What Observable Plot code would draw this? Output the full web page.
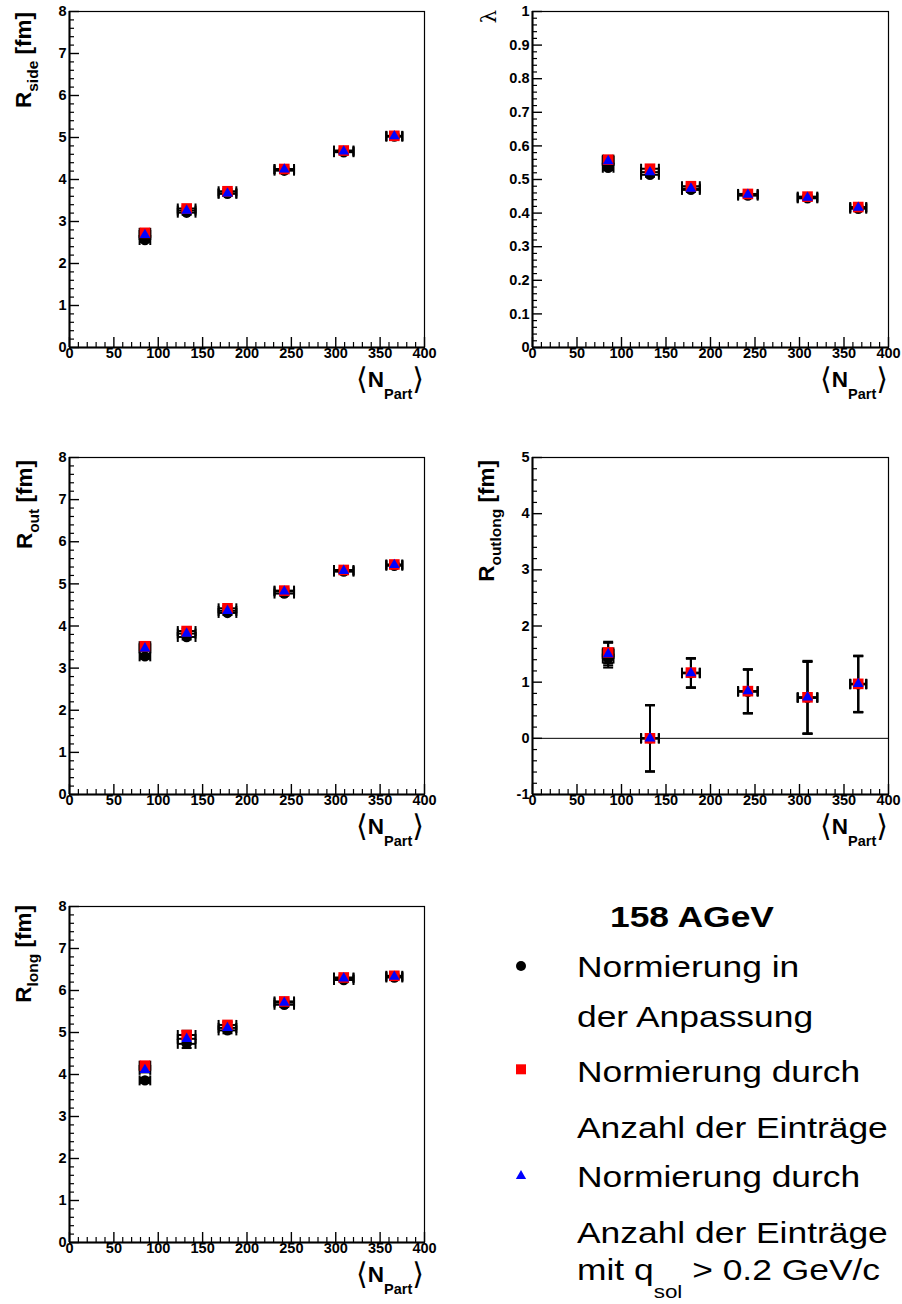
<!DOCTYPE html>
<html><head><meta charset="utf-8">
<script src="https://cdn.jsdelivr.net/npm/d3@7"></script>
<script src="https://cdn.jsdelivr.net/npm/@observablehq/plot@0.6"></script>
<style>
body{margin:0;background:#fff;}
#root{position:relative;width:902px;height:1304px;overflow:hidden;font-family:"Liberation Sans",Arial,Helvetica,sans-serif;}
#root > svg{position:absolute;}
</style></head><body><div id="root"></div>
<script>
// ---- data ----
const nPart = [85, 132, 178, 242, 309, 366];
const nPartErr = [6, 10, 10, 11, 11, 9];
const xTicks = [0, 50, 100, 150, 200, 250, 300, 350, 400];

const rTicks = [0, 1, 2, 3, 4, 5, 6, 7, 8];
const lambdaTicks = [0, 0.1, 0.2, 0.3, 0.4, 0.5, 0.6, 0.7, 0.8, 0.9, 1];
const outlongTicks = [-1, 0, 1, 2, 3, 4, 5];

const rsideFit  = [2.56, 3.21, 3.66, 4.21, 4.65, 5.02];
const rsideNorm = [2.73, 3.31, 3.72, 4.25, 4.69, 5.04];
const rsideCut  = [2.68, 3.26, 3.67, 4.24, 4.67, 5.03];
const rsideErr  = [0.05, 0.05, 0.05, 0.04, 0.04, 0.04];

const lambdaFit  = [0.535, 0.514, 0.469, 0.452, 0.444, 0.413];
const lambdaNorm = [0.559, 0.532, 0.480, 0.457, 0.449, 0.418];
const lambdaCut  = [0.555, 0.522, 0.473, 0.455, 0.446, 0.416];
const lambdaErr  = [0.007, 0.006, 0.006, 0.005, 0.005, 0.005];

const routFit  = [3.28, 3.74, 4.31, 4.77, 5.29, 5.43];
const routNorm = [3.52, 3.88, 4.42, 4.84, 5.33, 5.46];
const routCut  = [3.47, 3.82, 4.36, 4.82, 5.31, 5.45];
const routErr  = [0.06, 0.06, 0.05, 0.05, 0.04, 0.04];

const routlongFit  = [1.42, 0.00, 1.16, 0.83, 0.72, 0.96];
const routlongNorm = [1.53, 0.00, 1.17, 0.84, 0.73, 0.97];
const routlongCut  = [1.50, 0.00, 1.16, 0.84, 0.73, 0.97];
const routlongErrFit  = [0.16, 0.59, 0.26, 0.39, 0.64, 0.50];
const routlongErrNorm = [0.19, 0.59, 0.26, 0.39, 0.65, 0.50];
const routlongErrCut  = [0.20, 0.59, 0.26, 0.39, 0.64, 0.50];

const rlongFit  = [3.86, 4.73, 5.05, 5.66, 6.25, 6.31];
const rlongNorm = [4.21, 4.94, 5.18, 5.74, 6.31, 6.35];
const rlongCut  = [4.11, 4.85, 5.11, 5.71, 6.29, 6.33];
const rlongErr  = [0.06, 0.10, 0.07, 0.05, 0.05, 0.04];

const legendTitle = "158 AGeV";
const legendLines = ["Normierung in", "der Anpassung", "Normierung durch", "Anzahl der Einträge", "Normierung durch", "Anzahl der Einträge"];

// ---- helpers ----
const FONT = "'Liberation Sans', Arial, Helvetica, sans-serif";
const root = document.getElementById("root");

const vCap = {draw(ctx, size) { const r = Math.sqrt(size / Math.PI); ctx.moveTo(0, -r); ctx.lineTo(0, r); }};
const hCap = {draw(ctx, size) { const r = Math.sqrt(size / Math.PI); ctx.moveTo(-r, 0); ctx.lineTo(r, 0); }};

function rowsOf(vals, errs) {
  return nPart.map((x, i) => ({x, y: vals[i], xe: nPartErr[i], ye: errs[i]}));
}

function panel(o) {
  const {left, top, width, height, mL, mT, mR, mB, yDomain, yTicks, yMinorStep, yFmt, series, zero, yTitle} = o;
  const fw = width - mL - mR, fh = height - mT - mB;
  const xMinor = d3.range(0, 401, 10).filter(v => v % 50 !== 0);
  const nMinor = Math.round((yDomain[1] - yDomain[0]) / yMinorStep);
  const yMinor = d3.range(0, nMinor + 1).map(i => yDomain[0] + i * yMinorStep).filter(v => !yTicks.some(t => Math.abs(t - v) < 1e-9));
  const all = series.flatMap(s => s.rows);
  const errStyle = {stroke: "black", strokeWidth: 2};
  const marks = [
    Plot.frame({stroke: "black", strokeWidth: 1.2}),
    zero ? Plot.ruleY([0], {stroke: "black", strokeWidth: 1}) : null,
    Plot.tickX(xMinor, {x: d => d, insetTop: fh - 5, stroke: "black", strokeWidth: 1.2}),
    Plot.tickX(xTicks, {x: d => d, insetTop: fh - 10, stroke: "black", strokeWidth: 1.4}),
    Plot.tickY(yMinor, {y: d => d, insetRight: fw - 5, stroke: "black", strokeWidth: 1.2}),
    Plot.tickY(yTicks, {y: d => d, insetRight: fw - 10, stroke: "black", strokeWidth: 1.4}),
    Plot.ruleY([yDomain[0]], {stroke: "black", strokeWidth: 2}),
    Plot.ruleX([0], {stroke: "black", strokeWidth: 2}),
    Plot.text(xTicks, {x: d => d, text: d => String(d), frameAnchor: "bottom", dy: 10, fontWeight: "bold", fontSize: 14.5, fill: "black"}),
    Plot.text(yTicks, {y: d => d, text: yFmt, frameAnchor: "left", dx: -3, textAnchor: "end", fontWeight: "bold", fontSize: 14.5, fill: "black"}),
    Plot.link(all, {x1: d => d.x - d.xe, x2: d => d.x + d.xe, y1: "y", y2: "y", ...errStyle}),
    Plot.link(all, {x1: "x", x2: "x", y1: d => d.y - d.ye, y2: d => d.y + d.ye, ...errStyle}),
    Plot.dot(all, {x: d => d.x - d.xe, y: "y", symbol: vCap, r: 5, fill: "none", ...errStyle}),
    Plot.dot(all, {x: d => d.x + d.xe, y: "y", symbol: vCap, r: 5, fill: "none", ...errStyle}),
    Plot.dot(all, {x: "x", y: d => d.y - d.ye, symbol: hCap, r: 5, fill: "none", ...errStyle}),
    Plot.dot(all, {x: "x", y: d => d.y + d.ye, symbol: hCap, r: 5, fill: "none", ...errStyle}),
    ...series.map(s => Plot.dot(s.rows, {x: "x", y: "y", symbol: s.symbol, r: s.r, fill: s.color, stroke: "none"}))
  ];
  const chart = Plot.plot({
    width, height, marginLeft: mL, marginTop: mT, marginRight: mR, marginBottom: mB,
    x: {domain: [0, 400], axis: null},
    y: {domain: yDomain, axis: null},
    style: {fontFamily: FONT, color: "black", background: "transparent", overflow: "visible"},
    marks
  });
  chart.style.left = left + "px";
  chart.style.top = top + "px";
  root.appendChild(chart);
  const svg = d3.select(chart);
  // y title
  const yt = svg.append("text")
    .attr("transform", `translate(${yTitle.x},${yTitle.y}) rotate(-90)`)
    .attr("text-anchor", "end").attr("font-family", FONT).attr("fill", "black");
  if (yTitle.lambda) {
    yt.attr("font-family", "'DejaVu Serif', serif").attr("font-size", 21).text("λ");
  } else {
    yt.attr("font-weight", "bold").attr("font-size", 22.5);
    yt.append("tspan").text("R");
    yt.append("tspan").attr("font-size", 15.5).attr("dy", 7).text(yTitle.sub);
    yt.append("tspan").attr("dy", -7).text(" [fm]");
  }
  // x title
  const xr = width - mR, xb = height - mB + 40;
  const xt = svg.append("text").attr("x", xr).attr("y", xb).attr("text-anchor", "end")
    .attr("font-family", FONT).attr("fill", "black");
  xt.append("tspan").attr("font-family", "'DejaVu Sans', sans-serif").attr("font-size", 30).attr("font-weight", "normal").attr("dy", 2).text("⟨");
  xt.append("tspan").attr("font-size", 22.5).attr("font-weight", "bold").attr("dy", -2).text("N");
  xt.append("tspan").attr("font-size", 14.5).attr("font-weight", "bold").attr("dy", 12).text("Part");
  xt.append("tspan").attr("font-family", "'DejaVu Sans', sans-serif").attr("font-size", 30).attr("font-weight", "normal").attr("dy", -10).text("⟩");
}

function makeSeries(fit, norm, cut, errFit, errNorm, errCut) {
  return [
    {rows: rowsOf(fit, errFit), symbol: "circle", r: 5.2, color: "black"},
    {rows: rowsOf(norm, errNorm ?? errFit), symbol: "square", r: 6, color: "#ff0000"},
    {rows: rowsOf(cut, errCut ?? errFit), symbol: "triangle", r: 4, color: "#0000ff"}
  ];
}

const L = {left: 0, width: 451, mL: 69, mR: 27};
const R = {left: 451, width: 451, mL: 81, mR: 14};
const row1 = {top: 0, height: 440, mT: 11, mB: 93};
const row2 = {top: 440, height: 440, mT: 17, mB: 86};
const row3 = {top: 880, height: 424, mT: 26, mB: 62};
const fmt = d => String(d);

panel({...L, ...row1, yDomain: [0, 8], yTicks: rTicks, yMinorStep: 0.2, yFmt: fmt,
  series: makeSeries(rsideFit, rsideNorm, rsideCut, rsideErr), yTitle: {x: 30.5, y: 12, sub: "side"}});
panel({...R, ...row1, yDomain: [0, 1], yTicks: lambdaTicks, yMinorStep: 0.02, yFmt: fmt,
  series: makeSeries(lambdaFit, lambdaNorm, lambdaCut, lambdaErr), yTitle: {x: 45, y: 10, lambda: true}});
panel({...L, ...row2, yDomain: [0, 8], yTicks: rTicks, yMinorStep: 0.2, yFmt: fmt,
  series: makeSeries(routFit, routNorm, routCut, routErr), yTitle: {x: 31.5, y: 20, sub: "out"}});
panel({...R, ...row2, yDomain: [-1, 5], yTicks: outlongTicks, yMinorStep: 0.2, yFmt: fmt, zero: true,
  series: makeSeries(routlongFit, routlongNorm, routlongCut, routlongErrFit, routlongErrNorm, routlongErrCut),
  yTitle: {x: 43, y: 20, sub: "outlong"}});
panel({...L, ...row3, yDomain: [0, 8], yTicks: rTicks, yMinorStep: 0.2, yFmt: fmt,
  series: makeSeries(rlongFit, rlongNorm, rlongCut, rlongErr), yTitle: {x: 31, y: 25, sub: "long"}});

// ---- legend ----
const leg = d3.select(root).append("svg").attr("width", 451).attr("height", 424)
  .style("left", "451px").style("top", "880px");
const sx = 1.18;
function legText(x, y, bold) {
  return leg.append("text").attr("transform", `translate(${x},${y}) scale(${sx},1)`)
    .attr("font-family", FONT).attr("font-size", 30).attr("font-weight", bold ? "bold" : "normal").attr("fill", "black");
}
legText(159, 46.7, true).text(legendTitle);
const baselines = [96.7, 146.7, 201.7, 258.3, 306.7, 362.7];
legendLines.forEach((t, i) => legText(126, baselines[i], false).text(t));
const last = legText(126, 400, false);
last.append("tspan").text("mit q");
last.append("tspan").attr("font-size", 19).attr("dy", 18).text("sol");
last.append("tspan").attr("dy", -18).text(" > 0.2 GeV/c");
leg.append("path").attr("transform", "translate(70,86)").attr("d", d3.symbol(d3.symbolCircle, Math.PI * 25)()).attr("fill", "black");
leg.append("path").attr("transform", "translate(70,189.3)").attr("d", d3.symbol(d3.symbolSquare, 100)()).attr("fill", "#ff0000");
leg.append("path").attr("transform", "translate(70,296)").attr("d", d3.symbol(d3.symbolTriangle, Math.PI * 3.8 * 3.8)()).attr("fill", "#0000ff");
</script></body></html>
